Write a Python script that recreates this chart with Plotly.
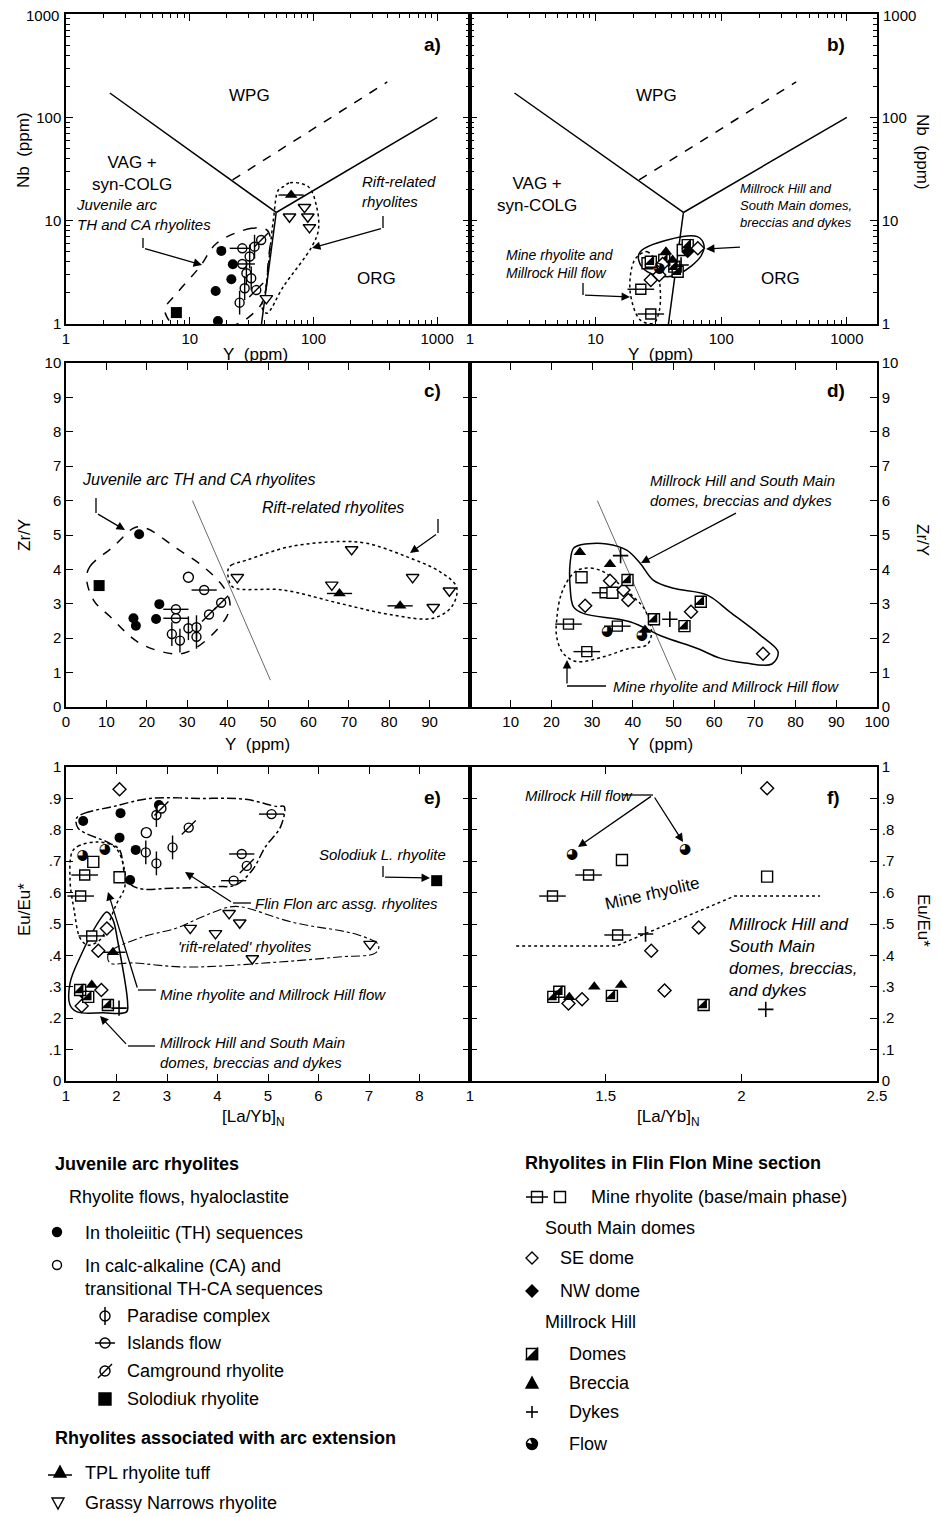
import plotly.graph_objects as go

# Page-pixel frame of the reference (940 x 1517).  The browser body adds an 8 px
# margin, so the figure itself is 8 px smaller on each axis and offset by 8 px.
W, H = 940, 1517
OFF = 8
FW, FH = W - OFF, H - OFF
FONT = "Liberation Sans, Arial, Helvetica, sans-serif"
SYMF = "DejaVu Sans"

# ======================= DATA =======================
# ---- Panel a : Nb (ppm) vs Y (ppm) ----
a_th_y, a_th_nb = [18.0, 22.3, 21.7, 16.2, 16.9], [5.1, 3.78, 2.71, 2.09, 1.07]
a_par_y, a_par_nb = [33.4, 30.5, 28.7, 31.4, 27.8, 25.3], [5.6, 4.5, 3.1, 2.77, 2.22, 1.61]
a_isl_y, a_isl_nb = [26.6, 26.6], [5.4, 3.81]
a_cam_y, a_cam_nb = [37.8, 34.5], [6.5, 2.13]
a_sol_y, a_sol_nb = [7.8], [1.29]
a_tpl_y, a_tpl_nb = [66.0], [17.7]
a_gn_y, a_gn_nb = [64.0, 84.6, 90.0, 92.8, 41.6], [10.9, 13.5, 10.9, 8.6, 1.77]
a_env_juv_y = [41.9, 31.7, 16.5, 12.1, 7.85, 6.31, 6.52, 7.6, 22.4, 32.7, 39.4, 43.2, 44.6]
a_env_juv_nb = [8.13, 8.44, 6.04, 3.59, 1.98, 1.42, 1.18, 0.97, 0.97, 1.27, 1.71, 4.17, 7.0]
a_env_rift_y = [57.1, 64.7, 90.9, 106, 109.6, 96.9, 57.1, 41.9, 38.2, 40.6, 47.4, 52.0]
a_env_rift_nb = [21.3, 23.3, 21.3, 13.7, 8.13, 5.6, 2.3, 1.27, 1.47, 1.98, 10.2, 19.8]
# discrimination boundaries (Nb-Y)
pb1_y, pb1_nb = [2.26, 50], [172, 12]
pb2_y, pb2_nb = [50, 1000], [12, 100]
pb3_y, pb3_nb = [50, 38], [12, 1]
pbd_y, pbd_nb = [22.2, 395], [24.8, 220]

# ---- Panel b : Nb vs Y, Flin Flon mine section ----
b_mb_y, b_mb_nb = [22.9, 27.5], [2.17, 1.25]
b_mm_y, b_mm_nb = [25.9, 49.4], [3.87, 5.2]
b_se_y, b_se_nb = [27.5, 32.1, 34.1, 65.1], [2.67, 2.98, 3.81, 5.4]
b_nw_y, b_nw_nb = [54.1], [5.0]
b_dom_y, b_dom_nb = [54.1, 27.5, 35.2, 42.3, 45.0], [5.8, 4.0, 4.16, 3.59, 3.2]
b_brc_y, b_brc_nb = [36.3, 41.0], [5.0, 4.16]
b_dyk_y, b_dyk_nb = [47.9], [3.72]
b_flw_y, b_flw_nb = [32.1], [3.46]
b_env_mh_y = [22.7, 37.2, 64.5, 72.8, 68.5, 47.4, 37.2, 25.7, 22.0]
b_env_mh_nb = [5.01, 6.5, 7.0, 5.82, 4.48, 3.1, 2.87, 3.21, 4.17]
b_env_mine_y = [21.4, 25.7, 30.0, 32.8, 31.8, 29.0, 22.7, 18.9, 19.5]
b_env_mine_nb = [4.48, 5.01, 3.98, 1.98, 1.27, 1.02, 1.09, 1.98, 3.59]

# ---- Panel c : Zr/Y vs Y ----
c_th_y, c_th_zr = [18.1, 23.1, 16.7, 17.3, 22.3], [5.02, 2.99, 2.58, 2.36, 2.56]
c_ca_y, c_ca_zr = [30.3], [3.77]
c_par_y, c_par_zr = [30.3, 32.3, 26.2, 28.2, 32.3], [2.29, 2.32, 2.12, 1.93, 2.04]
c_isl_y, c_isl_zr = [34.2, 27.2, 27.2], [3.4, 2.84, 2.58]
c_cam_y, c_cam_zr = [38.4, 35.4], [3.03, 2.69]
c_sol_y, c_sol_zr = [8.2], [3.53]
c_tpl_y, c_tpl_zr = [67.7, 82.7], [3.3, 2.94]
c_gn_y, c_gn_zr = [42.4, 70.7, 65.8, 85.8, 90.9, 94.9], [3.77, 4.58, 3.55, 3.77, 2.9, 3.38]
c_env_juv_y = [5.1, 5.9, 11.7, 17.1, 20.0, 27.4, 34.0, 38.9, 40.6, 39.8, 34.8, 30.3, 27.0, 18.3, 10.9, 6.8]
c_env_juv_zr = [3.74, 4.08, 4.66, 5.22, 5.19, 4.61, 4.08, 3.5, 3.01, 2.63, 1.95, 1.61, 1.54, 1.85, 2.63, 3.11]
c_env_rift_y = [40.2, 41.0, 44.7, 55.4, 67.8, 74.4, 84.3, 92.6, 96.7, 95.5, 90.9, 81.0, 67.8, 53.8, 41.4, 40.2]
c_env_rift_zr = [4.03, 4.13, 4.27, 4.66, 4.81, 4.76, 4.37, 3.93, 3.48, 2.92, 2.58, 2.67, 3.01, 3.4, 3.48, 3.74]
cd_line_y, cd_line_zr = [31.3, 50.6], [6.0, 0.78]

# ---- Panel d : Zr/Y vs Y, mine section ----
d_mb_y, d_mb_zr = [24.2, 36.2, 28.7, 33.2], [2.41, 2.35, 1.61, 3.32]
d_mm_y, d_mm_zr = [27.4, 35.0], [3.77, 3.32]
d_se_y, d_se_zr = [34.4, 37.7, 38.9, 28.3, 54.3, 72.0], [3.67, 3.4, 3.11, 2.94, 2.77, 1.55]
d_dom_y, d_dom_zr = [38.7, 45.2, 56.7, 52.7], [3.69, 2.55, 3.06, 2.35]
d_brc_y, d_brc_zr = [27.0, 34.4, 43.0], [4.5, 4.15, 2.24]
d_dyk_y, d_dyk_zr = [37.0, 49.1], [4.4, 2.55]
d_flw_y, d_flw_zr = [33.7, 42.2], [2.19, 2.09]
d_env_mh_y = [25.4, 27.0, 33.6, 38.5, 41.8, 45.0, 50.0, 58.2, 63.9, 71.3, 75.7, 74.2, 67.6, 61.4, 55.7, 47.5, 39.3, 27.8, 25.4, 24.6, 24.6]
d_env_mh_zr = [4.61, 4.71, 4.74, 4.56, 4.18, 3.69, 3.45, 3.26, 2.76, 2.09, 1.6, 1.25, 1.28, 1.42, 1.71, 2.04, 2.48, 2.72, 2.92, 3.5, 4.18]
d_env_mine_y = [21.3, 22.5, 25.4, 27.8, 31.9, 36.0, 40.1, 43.0, 44.6, 43.4, 39.3, 32.8, 26.2, 22.9, 21.3]
d_env_mine_zr = [2.53, 3.31, 3.89, 4.03, 3.98, 3.64, 3.21, 2.82, 2.14, 1.8, 1.71, 1.46, 1.32, 1.56, 2.04]

# ---- Panel e : Eu/Eu* vs [La/Yb]N ----
e_th_la, e_th_eu = [1.34, 2.08, 2.84, 2.06, 2.38, 2.27], [0.828, 0.853, 0.879, 0.775, 0.736, 0.64]
e_ca_la, e_ca_eu = [2.59], [0.791]
e_par_la, e_par_eu = [2.79, 3.11, 2.58, 2.79], [0.847, 0.744, 0.728, 0.693]
e_isl_la, e_isl_eu = [4.48, 4.32, 5.07], [0.723, 0.638, 0.85]
e_cam_la, e_cam_eu = [2.89, 3.43, 4.58], [0.868, 0.807, 0.685]
e_sol_la, e_sol_eu = [8.34], [0.638]
e_tpl_la, e_tpl_eu = [1.93], [0.41]
e_gn_la, e_gn_eu = [4.23, 4.44, 3.96, 7.02, 4.69, 3.46], [0.534, 0.504, 0.47, 0.436, 0.39, 0.487]
e_mb_la, e_mb_eu = [1.37, 1.29, 1.51], [0.656, 0.589, 0.462]
e_mm_la, e_mm_eu = [1.54, 2.06], [0.698, 0.649]
e_se_la, e_se_eu = [2.06, 1.81, 1.64, 1.7, 1.31], [0.929, 0.486, 0.415, 0.29, 0.239]
e_nw_la, e_nw_eu = [1.37], [0.274]
e_dom_la, e_dom_eu = [1.28, 1.83, 1.44], [0.29, 0.242, 0.268]
e_brc_la, e_brc_eu = [1.51], [0.306]
e_dyk_la, e_dyk_eu = [2.05], [0.232]
e_flw_la, e_flw_eu = [1.77, 1.33], [0.736, 0.717]
e_env_ff_la = [1.21, 1.37, 1.93, 2.66, 3.64, 4.56, 5.18, 5.32, 5.25, 4.95, 4.69, 4.36, 3.97, 3.11, 2.42, 2.2, 2.06, 1.87, 1.24]
e_env_ff_eu = [0.837, 0.853, 0.874, 0.9, 0.9, 0.897, 0.874, 0.874, 0.81, 0.746, 0.672, 0.624, 0.619, 0.614, 0.614, 0.64, 0.736, 0.757, 0.805]
e_env_mine_la = [1.12, 1.24, 1.61, 1.97, 2.16, 2.16, 2.0, 1.83, 1.67, 1.43, 1.28, 1.16, 1.08]
e_env_mine_eu = [0.729, 0.748, 0.761, 0.745, 0.672, 0.615, 0.564, 0.497, 0.449, 0.433, 0.455, 0.545, 0.64]
e_env_rift_la = [1.83, 1.91, 2.52, 3.19, 3.64, 4.23, 4.49, 5.47, 6.79, 7.19, 7.13, 6.4, 5.22, 3.38, 2.32, 1.87]
e_env_rift_eu = [0.401, 0.417, 0.459, 0.487, 0.519, 0.554, 0.554, 0.506, 0.465, 0.433, 0.408, 0.395, 0.379, 0.363, 0.376, 0.376]
e_env_mh_la = [1.81, 1.67, 1.28, 1.08, 1.08, 1.22, 1.73, 2.2, 2.22, 2.02, 1.93]
e_env_mh_eu = [0.538, 0.513, 0.395, 0.312, 0.242, 0.22, 0.217, 0.22, 0.248, 0.449, 0.513]

# ---- Panel f : Eu/Eu* vs [La/Yb]N, mine section ----
f_mb_la, f_mb_eu = [1.437, 1.304, 1.544], [0.656, 0.589, 0.465]
f_mm_la, f_mm_eu = [1.56, 2.095], [0.704, 0.651]
f_se_la, f_se_eu = [2.095, 1.843, 1.668, 1.717, 1.363, 1.413], [0.932, 0.489, 0.415, 0.288, 0.247, 0.26]
f_dom_la, f_dom_eu = [1.307, 1.329, 1.523, 1.861], [0.268, 0.284, 0.271, 0.242]
f_brc_la, f_brc_eu = [1.366, 1.458, 1.557], [0.267, 0.3, 0.306]
f_dyk_la, f_dyk_eu = [1.647, 2.09], [0.468, 0.228]
f_flw_la, f_flw_eu = [1.376, 1.793], [0.72, 0.738]
f_div_la, f_div_eu = [1.17, 1.539, 1.975, 2.29], [0.43, 0.43, 0.589, 0.589]

# tick labels
log_vals = [1, 10, 100, 1000]
log_text = ["1", "10", "100", "1000"]
log_text_y = ["1", "10", "100", ""]      # top "1000" is written as a label annotation
zr_vals = list(range(0, 11))
y_vals = list(range(0, 101, 10))
c_xtext = [str(v) for v in y_vals[:-1]] + [""]
d_xtext = [""] + [str(v) for v in y_vals[1:]]
eu_vals = [i / 10 for i in range(11)]
eu_text = ["0", ".1", ".2", ".3", ".4", ".5", ".6", ".7", ".8", ".9", "1"]
la_e_vals = list(range(1, 10))
la_e_text = [str(v) for v in range(1, 9)] + [""]
la_f_vals = [1, 1.5, 2, 2.5]
la_f_text = ["1", "1.5", "2", "2.5"]

# ======================= FIGURE =======================
fig = go.Figure()
AX = {'a': ('x', 'y'), 'b': ('x2', 'y2'), 'c': ('x3', 'y3'),
      'd': ('x4', 'y4'), 'e': ('x5', 'y5'), 'f': ('x6', 'y6')}


def add_line(p, xs, ys, dash='solid', width=1.5, close=False, spline=False, color='black'):
    xs, ys = list(xs), list(ys)
    if close:
        xs, ys = xs + xs[:1], ys + ys[:1]
    xa, ya = AX[p]
    fig.add_trace(go.Scatter(x=xs, y=ys, mode='lines', xaxis=xa, yaxis=ya, showlegend=False,
                             hoverinfo='skip',
                             line=dict(color=color, width=width, dash=dash,
                                       shape='spline' if spline else 'linear', smoothing=1.0)))


def add_pts(p, kind, xs, ys):
    xa, ya = AX[p]

    def sc(symbol, size, fill='black', lw=1.4):
        fig.add_trace(go.Scatter(x=xs, y=ys, mode='markers', xaxis=xa, yaxis=ya, showlegend=False,
                                 hoverinfo='skip',
                                 marker=dict(symbol=symbol, size=size, color=fill,
                                             line=dict(color='black', width=lw))))

    def tx(ch, size):
        fig.add_trace(go.Scatter(x=xs, y=ys, mode='text', text=[ch] * len(xs), xaxis=xa, yaxis=ya,
                                 textposition='middle center', showlegend=False, hoverinfo='skip',
                                 textfont=dict(family=SYMF, size=size, color='black')))

    if kind == 'th':
        sc('circle', 10, 'black', 0)
    elif kind == 'ca':
        sc('circle', 10, 'white')
    elif kind == 'par':
        sc('circle', 9, 'white'); sc('line-ns', 17)
    elif kind == 'isl':
        sc('circle', 9, 'white'); sc('line-ew', 18)
    elif kind == 'cam':
        sc('circle', 9, 'white'); sc('line-ne', 14)
    elif kind == 'sol':
        sc('square', 11, 'black', 0)
    elif kind == 'tpl':
        sc('triangle-up', 11, 'black', 0); sc('line-ew', 18)
    elif kind == 'gn':
        sc('triangle-down', 11, 'white')
    elif kind == 'mb':
        sc('square', 10, 'white'); sc('line-ew', 19)
    elif kind == 'mm':
        sc('square', 11, 'white')
    elif kind == 'se':
        sc('diamond', 10, 'white')
    elif kind == 'nw':
        sc('diamond', 10, 'black', 0)
    elif kind == 'dom':
        sc('square', 11, 'white', 0)
        sc('triangle-se', 11, 'black', 0)
        sc('square-open', 11, 'black', 1.4)
    elif kind == 'brc':
        sc('triangle-up', 11, 'black', 0)
    elif kind == 'dyk':
        sc('cross-thin', 11, 'black', 1.6)
    elif kind == 'flw':
        tx('\u25D5', 14)


# ---- panel a
add_line('a', pb1_y, pb1_nb); add_line('a', pb2_y, pb2_nb); add_line('a', pb3_y, pb3_nb)
add_line('a', pbd_y, pbd_nb, dash='dash')
add_line('a', a_env_juv_y, a_env_juv_nb, dash='dash', close=True, spline=True)
add_line('a', a_env_rift_y, a_env_rift_nb, dash='dot', close=True, spline=True)
add_pts('a', 'sol', a_sol_y, a_sol_nb)
add_pts('a', 'th', a_th_y, a_th_nb)
add_pts('a', 'isl', a_isl_y, a_isl_nb)
add_pts('a', 'par', a_par_y, a_par_nb)
add_pts('a', 'cam', a_cam_y, a_cam_nb)
add_pts('a', 'gn', a_gn_y, a_gn_nb)
add_pts('a', 'tpl', a_tpl_y, a_tpl_nb)

# ---- panel b
add_line('b', pb1_y, pb1_nb); add_line('b', pb2_y, pb2_nb); add_line('b', pb3_y, pb3_nb)
add_line('b', pbd_y, pbd_nb, dash='dash')
add_line('b', b_env_mh_y, b_env_mh_nb, close=True, spline=True)
add_line('b', b_env_mine_y, b_env_mine_nb, dash='dot', close=True, spline=True)
add_pts('b', 'mb', b_mb_y, b_mb_nb)
add_pts('b', 'mm', b_mm_y, b_mm_nb)
add_pts('b', 'dom', b_dom_y, b_dom_nb)
add_pts('b', 'se', b_se_y, b_se_nb)
add_pts('b', 'nw', b_nw_y, b_nw_nb)
add_pts('b', 'brc', b_brc_y, b_brc_nb)
add_pts('b', 'dyk', b_dyk_y, b_dyk_nb)
add_pts('b', 'flw', b_flw_y, b_flw_nb)

# ---- panel c
add_line('c', cd_line_y, cd_line_zr, width=0.8, color='#444')
add_line('c', c_env_juv_y, c_env_juv_zr, dash='dash', close=True, spline=True)
add_line('c', c_env_rift_y, c_env_rift_zr, dash='dot', close=True, spline=True)
add_pts('c', 'th', c_th_y, c_th_zr)
add_pts('c', 'ca', c_ca_y, c_ca_zr)
add_pts('c', 'par', c_par_y, c_par_zr)
add_pts('c', 'isl', c_isl_y, c_isl_zr)
add_pts('c', 'cam', c_cam_y, c_cam_zr)
add_pts('c', 'sol', c_sol_y, c_sol_zr)
add_pts('c', 'gn', c_gn_y, c_gn_zr)
add_pts('c', 'tpl', c_tpl_y, c_tpl_zr)

# ---- panel d
add_line('d', cd_line_y, cd_line_zr, width=0.8, color='#444')
add_line('d', d_env_mh_y, d_env_mh_zr, close=True, spline=True)
add_line('d', d_env_mine_y, d_env_mine_zr, dash='dot', close=True, spline=True)
add_pts('d', 'mb', d_mb_y, d_mb_zr)
add_pts('d', 'mm', d_mm_y, d_mm_zr)
add_pts('d', 'se', d_se_y, d_se_zr)
add_pts('d', 'dom', d_dom_y, d_dom_zr)
add_pts('d', 'brc', d_brc_y, d_brc_zr)
add_pts('d', 'dyk', d_dyk_y, d_dyk_zr)
add_pts('d', 'flw', d_flw_y, d_flw_zr)

# ---- panel e
add_line('e', e_env_ff_la, e_env_ff_eu, dash='dashdot', close=True, spline=True)
add_line('e', e_env_mine_la, e_env_mine_eu, dash='dot', close=True, spline=True)
add_line('e', e_env_rift_la, e_env_rift_eu, dash='dashdot', width=1.1, close=True, spline=True)
add_line('e', e_env_mh_la, e_env_mh_eu, close=True, spline=True)
add_pts('e', 'th', e_th_la, e_th_eu)
add_pts('e', 'ca', e_ca_la, e_ca_eu)
add_pts('e', 'par', e_par_la, e_par_eu)
add_pts('e', 'isl', e_isl_la, e_isl_eu)
add_pts('e', 'cam', e_cam_la, e_cam_eu)
add_pts('e', 'sol', e_sol_la, e_sol_eu)
add_pts('e', 'gn', e_gn_la, e_gn_eu)
add_pts('e', 'tpl', e_tpl_la, e_tpl_eu)
add_pts('e', 'mb', e_mb_la, e_mb_eu)
add_pts('e', 'mm', e_mm_la, e_mm_eu)
add_pts('e', 'se', e_se_la, e_se_eu)
add_pts('e', 'nw', e_nw_la, e_nw_eu)
add_pts('e', 'dom', e_dom_la, e_dom_eu)
add_pts('e', 'brc', e_brc_la, e_brc_eu)
add_pts('e', 'dyk', e_dyk_la, e_dyk_eu)
add_pts('e', 'flw', e_flw_la, e_flw_eu)

# ---- panel f
add_line('f', f_div_la, f_div_eu, dash='dot')
add_pts('f', 'mb', f_mb_la, f_mb_eu)
add_pts('f', 'mm', f_mm_la, f_mm_eu)
add_pts('f', 'se', f_se_la, f_se_eu)
add_pts('f', 'dom', f_dom_la, f_dom_eu)
add_pts('f', 'brc', f_brc_la, f_brc_eu)
add_pts('f', 'dyk', f_dyk_la, f_dyk_eu)
add_pts('f', 'flw', f_flw_la, f_flw_eu)

# ======================= AXES =======================
def pxx(x):
    return (x - OFF) / FW


def pyy(y):
    return 1 - (y - OFF) / FH


base = dict(showline=True, linecolor='black', linewidth=1.5, mirror='allticks', ticks='inside',
            ticklen=7, tickwidth=1.2, tickcolor='black', showgrid=False, zeroline=False,
            tickfont=dict(family=FONT, size=15, color='black'), tickmode='array')
log_minor = [m * 10 ** k for k in range(0, 4) for m in range(2, 10)]
minor_log = dict(ticks='inside', ticklen=4, tickwidth=1, tickcolor='black', tickmode='array',
                 tickvals=log_minor)

ROWS = {1: (14, 324), 2: (363, 707), 3: (767, 1081)}
LEFT, MID, RIGHT = 66, 470, 877


def xdom(l, r):
    return [pxx(l), pxx(r)]


def ydom(row):
    t, b = ROWS[row]
    return [pyy(b), pyy(t)]


lay = {}
lay['xaxis'] = dict(base, type='log', range=[0, 3.265], tickvals=log_vals, ticktext=log_text,
                    minor=minor_log, domain=xdom(LEFT, MID), anchor='y')
lay['yaxis'] = dict(base, type='log', range=[0, 3], tickvals=log_vals, ticktext=log_text_y,
                    minor=minor_log, domain=ydom(1), anchor='x')
lay['xaxis2'] = dict(base, type='log', range=[0, 3.24], tickvals=log_vals, ticktext=log_text,
                     minor=minor_log, domain=xdom(MID, RIGHT), anchor='y2')
lay['yaxis2'] = dict(base, type='log', range=[0, 3], tickvals=log_vals, ticktext=log_text_y,
                     minor=minor_log, domain=ydom(1), anchor='x2', side='right')
lay['xaxis3'] = dict(base, range=[0, 100], tickvals=y_vals, ticktext=c_xtext,
                     domain=xdom(LEFT, MID), anchor='y3')
lay['yaxis3'] = dict(base, range=[0, 10], tickvals=zr_vals, domain=ydom(2), anchor='x3')
lay['xaxis4'] = dict(base, range=[0, 100], tickvals=y_vals, ticktext=d_xtext,
                     domain=xdom(MID, RIGHT), anchor='y4')
lay['yaxis4'] = dict(base, range=[0, 10], tickvals=zr_vals, domain=ydom(2), anchor='x4', side='right')
lay['xaxis5'] = dict(base, range=[1, 9], tickvals=la_e_vals, ticktext=la_e_text,
                     domain=xdom(LEFT, MID), anchor='y5')
lay['yaxis5'] = dict(base, range=[0, 1], tickvals=eu_vals, ticktext=eu_text, domain=ydom(3), anchor='x5')
lay['xaxis6'] = dict(base, range=[1, 2.5], tickvals=la_f_vals, ticktext=la_f_text,
                     domain=xdom(MID, RIGHT), anchor='y6')
lay['yaxis6'] = dict(base, range=[0, 1], tickvals=eu_vals, ticktext=eu_text, domain=ydom(3),
                     anchor='x6', side='right')

# ======================= ANNOTATIONS =======================
ann = []
shapes = []


def text(x, y, s, size=15, anchor='center', italic=False, bold=False, angle=0, align=None):
    if bold:
        s = '<b>' + s + '</b>'
    if italic:
        s = '<i>' + s + '</i>'
    ann.append(dict(x=pxx(x), y=pyy(y), xref='paper', yref='paper', text=s, showarrow=False,
                    xanchor=anchor, yanchor='middle', textangle=angle,
                    align=align if align else anchor,
                    font=dict(family=FONT, size=size, color='black')))


def seg(pts, width=1.3):
    for (x0, y0), (x1, y1) in zip(pts[:-1], pts[1:]):
        shapes.append(dict(type='line', xref='paper', yref='paper', x0=pxx(x0), y0=pyy(y0),
                           x1=pxx(x1), y1=pyy(y1), line=dict(color='black', width=width)))


def arrow(tail, head):
    ann.append(dict(x=pxx(head[0]), y=pyy(head[1]), xref='paper', yref='paper', text=' ',
                    font=dict(size=2),
                    showarrow=True, ax=tail[0] - head[0], ay=tail[1] - head[1],
                    axref='pixel', ayref='pixel', arrowhead=2, arrowsize=1.3, arrowwidth=1.3,
                    arrowcolor='black', standoff=0, startstandoff=0))


# top "1000" labels of the Nb axes (at the very top edge of the page)
text(61, 16, log_text[-1], size=15, anchor='right')
text(881, 16, log_text[-1], size=15, anchor='left')

# panel letters
for s, x, y in [('a)', 432, 45), ('b)', 836, 45), ('c)', 432, 390), ('d)', 836, 390),
                ('e)', 432, 797), ('f)', 833, 797)]:
    text(x, y, s, size=19, bold=True)

# axis titles
text(24, 150, 'Nb\u00a0 (ppm)', size=17, angle=-90)
text(923, 152, 'Nb\u00a0 (ppm)', size=17, angle=90)
text(255, 354, 'Y\u00a0 (ppm)', size=17)
text(660, 354, 'Y\u00a0 (ppm)', size=17)
text(24, 535, 'Zr/Y', size=17, angle=-90)
text(923, 540, 'Zr/Y', size=17, angle=90)
text(257, 744, 'Y\u00a0 (ppm)', size=17)
text(660, 744, 'Y\u00a0 (ppm)', size=17)
text(24, 910, 'Eu/Eu*', size=17, angle=-90)
text(923, 920, 'Eu/Eu*', size=17, angle=90)
text(253, 1118, '[La/Yb]<sub>N</sub>', size=17)
text(668, 1118, '[La/Yb]<sub>N</sub>', size=17)

# panel a texts
text(250, 96, 'WPG', size=17)
text(132, 174, 'VAG +<br>syn-COLG', size=17)
text(376, 278, 'ORG', size=17)
text(74, 215, 'Juvenile arc<br>TH and CA rhyolites', size=15, anchor='left', italic=True)
text(360, 191, 'Rift-related<br>rhyolites', size=15, anchor='left', italic=True)
seg([(143, 238), (143, 248)]); arrow((143, 248), (202, 265))
seg([(383, 216), (383, 228)]); arrow((383, 228), (312, 248))

# panel b texts
text(656, 96, 'WPG', size=17)
text(537, 194, 'VAG +<br>syn-COLG', size=17)
text(780, 278, 'ORG', size=17)
text(738, 205, 'Millrock Hill and<br>South Main domes,<br>breccias and dykes', size=13,
     anchor='left', italic=True)
text(504, 264, 'Mine rhyolite and<br>Millrock Hill flow', size=14, anchor='left', italic=True)
arrow((742, 247), (706, 249))
seg([(583, 283), (583, 295)]); arrow((583, 295), (630, 297))

# panel c texts
text(80, 479, 'Juvenile arc TH and CA rhyolites', size=16, anchor='left', italic=True)
text(260, 507, 'Rift-related rhyolites', size=16, anchor='left', italic=True)
seg([(96, 498), (96, 513)]); arrow((96, 513), (125, 530))
seg([(438, 519), (438, 533)]); arrow((438, 533), (410, 553))

# panel d texts
text(648, 490, 'Millrock Hill and South Main<br>domes, breccias and dykes', size=15,
     anchor='left', italic=True)
text(611, 686, 'Mine rhyolite and Millrock Hill flow', size=15, anchor='left', italic=True)
arrow((738, 512), (641, 563))
seg([(606, 686), (567, 686)]); arrow((567, 686), (567, 660))

# panel e texts
text(317, 855, 'Solodiuk L. rhyolite', size=15, anchor='left', italic=True)
seg([(383, 866), (383, 877)]); arrow((383, 877), (430, 878))
text(253, 903, 'Flin Flon arc assg. rhyolites', size=15, anchor='left', italic=True)
seg([(251, 903), (233, 903)]); arrow((233, 903), (185, 872))
text(176, 946, "'rift-related' rhyolites", size=15, anchor='left', italic=True)
text(158, 994, 'Mine rhyolite and Millrock Hill flow', size=15, anchor='left', italic=True)
seg([(156, 990), (138, 990)]); arrow((138, 990), (108, 892))
text(158, 1052, 'Millrock Hill and South Main<br>domes, breccias and dykes', size=15,
     anchor='left', italic=True)
seg([(155, 1046), (128, 1046)]); arrow((128, 1046), (100, 1016))

# panel f texts
text(523, 795, 'Millrock Hill flow', size=15, anchor='left', italic=True)
seg([(623, 795), (653, 795)])
arrow((653, 795), (578, 847)); arrow((653, 795), (683, 842))
text(652, 893, 'Mine rhyolite', size=17, angle=-13)
text(727, 957, 'Millrock Hill and<br>South Main<br>domes, breccias,<br>and dykes', size=17,
     anchor='left', italic=True)

# ======================= LEGEND (layout drawing) =======================
def circ(cx, cy, r, fill):
    shapes.append(dict(type='circle', xref='paper', yref='paper', x0=pxx(cx - r), x1=pxx(cx + r),
                       y0=pyy(cy + r), y1=pyy(cy - r), fillcolor=fill,
                       line=dict(color='black', width=1.4)))


def poly(pts, fill, lw=1.4):
    path = 'M ' + ' L '.join('%f %f' % (pxx(x), pyy(y)) for x, y in pts) + ' Z'
    shapes.append(dict(type='path', xref='paper', yref='paper', path=path, fillcolor=fill,
                       line=dict(color='black', width=lw)))


def key(kind, cx, cy):
    if kind == 'th':
        circ(cx, cy, 4.5, 'black')
    elif kind == 'ca':
        circ(cx, cy, 4.5, 'white')
    elif kind in ('par', 'isl', 'cam'):
        circ(cx, cy, 5, 'white')
        if kind == 'par':
            seg([(cx, cy - 9), (cx, cy + 9)], 1.5)
        elif kind == 'isl':
            seg([(cx - 10, cy), (cx + 10, cy)], 1.5)
        else:
            seg([(cx - 7, cy + 7), (cx + 7, cy - 7)], 1.5)
    elif kind == 'sol':
        poly([(cx - 6, cy - 6), (cx + 6, cy - 6), (cx + 6, cy + 6), (cx - 6, cy + 6)], 'black')
    elif kind in ('tpl', 'brc'):
        poly([(cx - 6, cy + 5), (cx + 6, cy + 5), (cx, cy - 6)], 'black')
        if kind == 'tpl':
            seg([(cx - 12, cy + 3), (cx + 12, cy + 3)], 1.5)
    elif kind == 'gn':
        poly([(cx - 6, cy - 5), (cx + 6, cy - 5), (cx, cy + 6)], 'white')
    elif kind in ('mb', 'mm'):
        poly([(cx - 5.5, cy - 5.5), (cx + 5.5, cy - 5.5), (cx + 5.5, cy + 5.5), (cx - 5.5, cy + 5.5)], 'white')
        if kind == 'mb':
            seg([(cx - 11, cy), (cx + 11, cy)], 1.5)
    elif kind in ('se', 'nw'):
        poly([(cx, cy - 6), (cx + 6, cy), (cx, cy + 6), (cx - 6, cy)], 'white' if kind == 'se' else 'black')
    elif kind == 'dom':
        poly([(cx - 5.5, cy - 5.5), (cx + 5.5, cy - 5.5), (cx + 5.5, cy + 5.5), (cx - 5.5, cy + 5.5)], 'white')
        poly([(cx - 5.5, cy + 5.5), (cx + 5.5, cy + 5.5), (cx + 5.5, cy - 5.5)], 'black')
    elif kind == 'dyk':
        seg([(cx - 6, cy), (cx + 6, cy)], 1.6); seg([(cx, cy - 6), (cx, cy + 6)], 1.6)
    elif kind == 'flw':
        circ(cx, cy, 5.5, 'black')
        poly([(cx, cy), (cx - 5, cy - 1.5), (cx - 2, cy - 5)], 'white', 0)


LS = 18
text(53, 1164, 'Juvenile arc rhyolites', size=LS, anchor='left', bold=True)
text(67, 1197, 'Rhyolite flows, hyaloclastite', size=LS, anchor='left')
key('th', 57, 1232); text(83, 1233, 'In tholeiitic (TH) sequences', size=LS, anchor='left')
key('ca', 57, 1265)
text(83, 1277, 'In calc-alkaline (CA) and<br>transitional TH-CA sequences', size=LS, anchor='left')
key('par', 105, 1316); text(125, 1316, 'Paradise complex', size=LS, anchor='left')
key('isl', 105, 1343); text(125, 1343, 'Islands flow', size=LS, anchor='left')
key('cam', 105, 1371); text(125, 1371, 'Camground rhyolite', size=LS, anchor='left')
key('sol', 105, 1399); text(125, 1399, 'Solodiuk rhyolite', size=LS, anchor='left')
text(53, 1438, 'Rhyolites associated with arc extension', size=LS, anchor='left', bold=True)
key('tpl', 60, 1472); text(83, 1473, 'TPL rhyolite tuff', size=LS, anchor='left')
key('gn', 58, 1503); text(83, 1503, 'Grassy Narrows rhyolite', size=LS, anchor='left')

text(523, 1163, 'Rhyolites in Flin Flon Mine section', size=LS, anchor='left', bold=True)
key('mb', 537, 1197); key('mm', 560, 1197)
text(589, 1197, 'Mine rhyolite (base/main phase)', size=LS, anchor='left')
text(543, 1228, 'South Main domes', size=LS, anchor='left')
key('se', 532, 1258); text(558, 1258, 'SE dome', size=LS, anchor='left')
key('nw', 532, 1291); text(558, 1291, 'NW dome', size=LS, anchor='left')
text(543, 1322, 'Millrock Hill', size=LS, anchor='left')
key('dom', 532, 1354); text(567, 1354, 'Domes', size=LS, anchor='left')
key('brc', 532, 1383); text(567, 1383, 'Breccia', size=LS, anchor='left')
key('dyk', 532, 1412); text(567, 1412, 'Dykes', size=LS, anchor='left')
key('flw', 532, 1444); text(567, 1444, 'Flow', size=LS, anchor='left')

fig.update_layout(width=FW, height=FH, margin=dict(l=0, r=0, t=0, b=0, autoexpand=False),
                  paper_bgcolor='white', plot_bgcolor='white', showlegend=False,
                  font=dict(family=FONT, size=15, color='black'),
                  annotations=ann, shapes=shapes, **lay)

fig.write_html('out.html')
